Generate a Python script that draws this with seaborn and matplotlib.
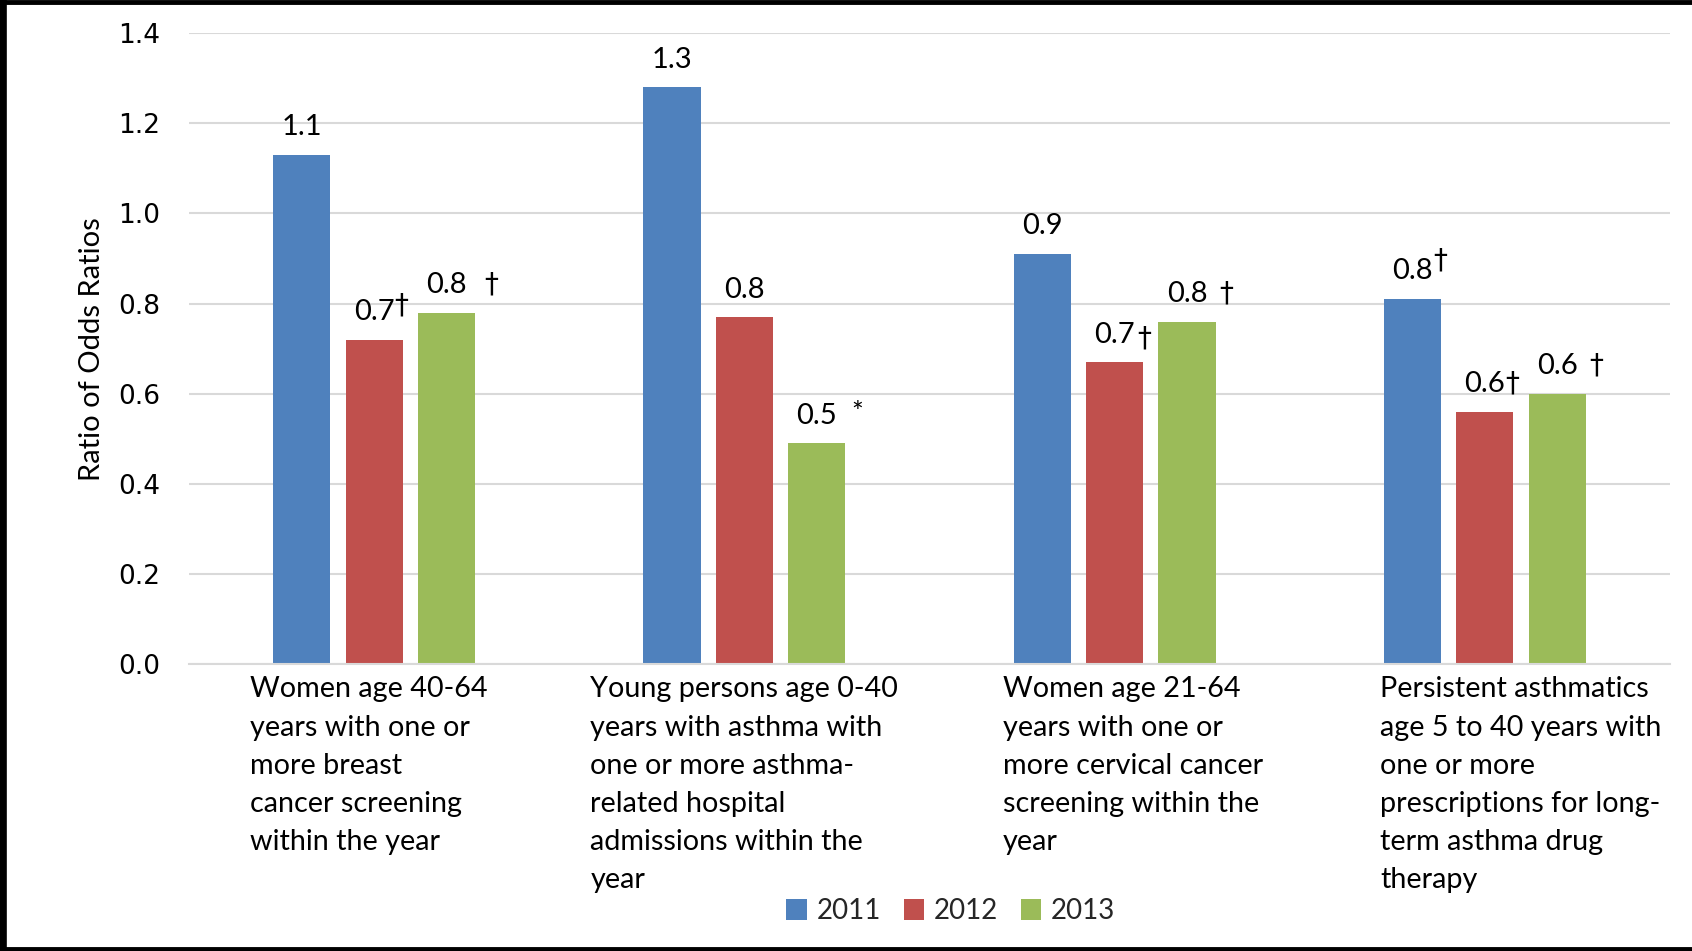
import matplotlib
matplotlib.use("Agg")
import matplotlib.pyplot as plt
from matplotlib.patches import Patch
from matplotlib.lines import Line2D
from matplotlib.transforms import IdentityTransform
import seaborn as sns
import pandas as pd

# ---------------- data ----------------
categories = [
    "Women age 40-64\nyears with one or\nmore breast\ncancer screening\nwithin the year",
    "Young persons age 0-40\nyears with asthma with\none or more asthma-\nrelated hospital\nadmissions within the\nyear",
    "Women age 21-64\nyears with one or\nmore cervical cancer\nscreening within the\nyear",
    "Persistent asthmatics\nage 5 to 40 years with\none or more\nprescriptions for long-\nterm asthma drug\ntherapy",
]
years = ["2011", "2012", "2013"]
values_2011 = [1.13, 1.28, 0.91, 0.81]
values_2012 = [0.72, 0.77, 0.67, 0.56]
values_2013 = [0.78, 0.49, 0.76, 0.60]
labels_2011 = ["1.1", "1.3", "0.9", "0.8"]
labels_2012 = ["0.7", "0.8", "0.7", "0.6"]
labels_2013 = ["0.8", "0.5", "0.8", "0.6"]
marks_2011 = ["", "", "", "\u2020"]
marks_2012 = ["\u2020", "", "\u2020", "\u2020"]
marks_2013 = ["\u2020", "*", "\u2020", "\u2020"]
yticks = [0.0, 0.2, 0.4, 0.6, 0.8, 1.0, 1.2, 1.4]

# styling: significance-mark (pixel gap, pixel raise); category label pixel shifts
mark_style_2011 = [(0, 0), (0, 0), (0, 0), (0, 10)]
mark_style_2012 = [(0, 6), (0, 0), (2, -5), (0, 0)]
mark_style_2013 = [(17, 0), (14, 2), (12, 0), (12, 0)]
cat_label_shift = [-5, 0, 18, 36]

colors = ["#4F81BD", "#C0504D", "#9BBB59"]

df = pd.DataFrame({
    "category": categories * 3,
    "year": [y for y in years for _ in categories],
    "value": values_2011 + values_2012 + values_2013,
})

sns.set_theme(style="white")
plt.rcParams["font.family"] = ["Lato", "DejaVu Sans"]

fig = plt.figure(figsize=(16.92, 9.51), dpi=100)
ax = fig.add_axes([0.1117, 0.3018, 0.987 - 0.1117, 0.965 - 0.3018])

sns.barplot(data=df, x="category", y="value", hue="year", order=categories,
            hue_order=years, palette=colors, width=0.586, gap=0.21,
            saturation=1, legend=False, ax=ax, edgecolor="none")

ax.set_xlim(-0.5, 3.5)
ax.set_ylim(0, 1.4)
ax.set_yticks(yticks)
ax.set_yticklabels([f"{t:.1f}" for t in yticks], fontsize=19, family="DejaVu Sans", color="#000000")
ax.yaxis.grid(True, color="#D9D9D9", linewidth=1.5)
ax.set_axisbelow(True)
for s in ["top", "right", "left"]:
    ax.spines[s].set_visible(False)
ax.spines["bottom"].set_color("#D9D9D9")
ax.spines["bottom"].set_linewidth(1.5)
ax.tick_params(axis="y", length=0, pad=21)
ax.tick_params(axis="x", length=0)
ax.set_xlabel("")
ax.set_ylabel("Ratio of Odds Ratios", fontsize=21, color="#000000")
ax.yaxis.set_label_coords(-0.0567, 0.5)

# category labels
ax.set_xticks(range(len(categories)))
ax.set_xticklabels([])
for i, (cat, dx) in enumerate(zip(categories, cat_label_shift)):
    ax.annotate(cat, xy=(i, 0), xycoords=("data", "axes fraction"),
                xytext=(dx * 0.72, -9), textcoords="offset points",
                ha="center", va="top", multialignment="left",
                fontsize=20.7, linespacing=1.58, color="#000000")

# value labels
all_labels = [labels_2011, labels_2012, labels_2013]
all_marks = [marks_2011, marks_2012, marks_2013]
all_styles = [mark_style_2011, mark_style_2012, mark_style_2013]
num_texts = []
for ci, cont in enumerate(ax.containers):
    for bi, bar in enumerate(cont):
        x = bar.get_x() + bar.get_width() / 2
        h = bar.get_height()
        t = ax.annotate(all_labels[ci][bi], (x, h), xytext=(0, 10.5), textcoords="offset points",
                        ha="center", va="bottom", fontsize=21, color="#000000")
        num_texts.append((t, all_marks[ci][bi], all_styles[ci][bi]))

fig.canvas.draw()
renderer = fig.canvas.get_renderer()
for t, mark, (dx, dy) in num_texts:
    if not mark:
        continue
    bb = t.get_window_extent(renderer)
    fig.text(bb.x1 + dx, bb.y0 + dy, mark, transform=IdentityTransform(),
             ha="left", va="bottom", fontsize=20, color="#000000",
             family=["DejaVu Sans"] if mark != "*" else ["Lato"])

# legend
handles = [Patch(facecolor=c, edgecolor="none") for c in colors]
fig.legend(handles, years, loc="center", bbox_to_anchor=(0.562, 0.042), ncol=3,
           frameon=False, fontsize=20, handlelength=0.75, handleheight=0.75,
           handletextpad=0.35, columnspacing=0.8)

# black frame (top, left, bottom)
fw, fh = fig.get_size_inches() * fig.dpi
fig.add_artist(Line2D([0, 1], [1 - 2 / fh, 1 - 2 / fh], transform=fig.transFigure, color="black", linewidth=3.5))
fig.add_artist(Line2D([3.5 / fw, 3.5 / fw], [0, 1], transform=fig.transFigure, color="black", linewidth=5.5))
fig.add_artist(Line2D([0, 1], [2 / fh, 2 / fh], transform=fig.transFigure, color="black", linewidth=3.5))

fig.savefig("out.png", dpi=100)
